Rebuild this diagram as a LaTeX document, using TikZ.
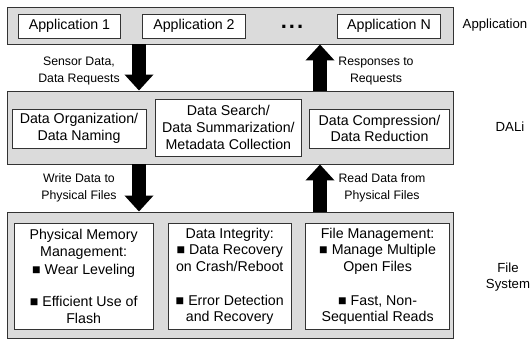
\documentclass[tikz,border=0pt]{standalone}
\usepackage{fontspec}
\setmainfont{Liberation Sans}
\usetikzlibrary{arrows.meta}
\definecolor{layergray}{gray}{0.86}
\definecolor{edgegray}{gray}{0.2}

\begin{document}
\begin{tikzpicture}[x=1pt,y=-1pt,
  layer/.style={draw=edgegray, fill=layergray, line width=0.9pt, inner sep=0pt},
  box/.style={draw=edgegray, fill=white, line width=0.9pt, inner sep=0pt,
    align=center, font=\fontsize{14.2}{16.7}\selectfont},
  flow/.style={line width=14pt, -{Triangle[width=28pt,length=16pt]}},
  note/.style={align=center, font=\fontsize{12.3}{16.5}\selectfont},
  side/.style={align=center, font=\fontsize{13.2}{16.5}\selectfont}]
\useasboundingbox (0,0) rectangle (531,339);

% three layers
\node[layer, minimum width=446pt, minimum height=37pt]  (app)  at (230,25.5)  {};
\node[layer, minimum width=446pt, minimum height=73pt]  (dali) at (230,127.5) {};
\node[layer, minimum width=446pt, minimum height=126pt] (fs)   at (230,275)   {};

% application layer
\node[box, minimum width=102.5pt, minimum height=24pt] (app1) at (69.5,26)  {Application 1};
\node[box, minimum width=102.5pt, minimum height=24pt] (app2) at (194,26)   {Application 2};
\node[font=\bfseries\fontsize{22}{22}\selectfont, inner sep=0pt] (dots) at (292,26.5) {.\kern2pt.\kern2pt.};
\node[box, minimum width=102.5pt, minimum height=24pt] (appN) at (389,26)   {Application N};

% DALi layer
\node[box, minimum width=134pt, minimum height=39pt]   (org)  at (79,128.5)    {Data Organization/\\Data Naming};
\node[box, minimum width=146.7pt, minimum height=57pt] (srch) at (228.4,127.5) {Data Search/\\Data Summarization/\\Metadata Collection};
\node[box, minimum width=140pt, minimum height=39pt]   (comp) at (379.5,128.5) {Data Compression/\\Data Reduction};

% file system layer
\node[box, minimum width=139.3pt, minimum height=106.5pt] (mem) at (83.65,276.25)
  {Physical Memory\\Management:\\[1.5pt]■ Wear Leveling\\[15.5pt]■ Efficient Use of\\Flash};
\node[box, minimum width=123pt, minimum height=106.5pt] (integ) at (229.75,276.25)
  {Data Integrity:\\■ Data Recovery\\on Crash/Reboot\\[17pt]■ Error Detection\\and Recovery};
\node[box, minimum width=143.6pt, minimum height=106.5pt] (fman) at (377.6,276.25)
  {File Management:\\■ Manage Multiple\\Open Files\\[17pt]■ Fast, Non-\\Sequential Reads};

% layer names
\node[side] (appname)  at (495,25)  {Application};
\node[side] (daliname) at (510,127) {DALi};
\node[side] (fsname)   at (508,277) {File\\System};

% data flow between layers
\coordinate (down) at (139,0);
\coordinate (up)   at (320,0);
\draw[flow] (app.south -| down) -- (dali.north -| down);
\draw[flow] (dali.north -| up) -- (app.south -| up);
\draw[flow] (dali.south -| down) -- (fs.north -| down);
\draw[flow] (fs.north -| up) -- (dali.south -| up);

\node[note] (req)   at (79,71)   {Sensor Data,\\Data Requests};
\node[note] (resp)  at (376,71)  {Responses to\\Requests};
\node[note] (write) at (79,188)  {Write Data to\\Physical Files};
\node[note] (read)  at (382,188) {Read Data from\\Physical Files};
\end{tikzpicture}
\end{document}
